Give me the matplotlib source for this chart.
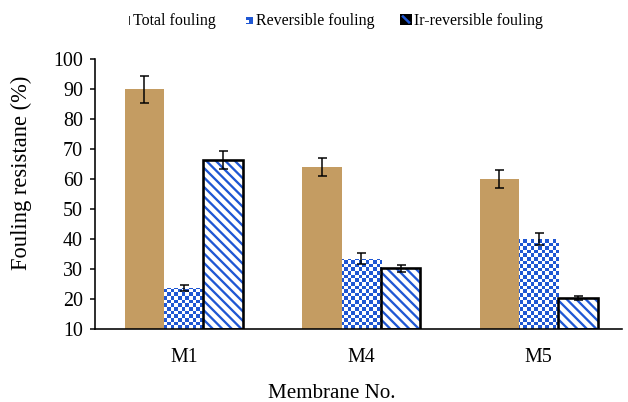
import numpy as np
import matplotlib
matplotlib.use("Agg")
import matplotlib.pyplot as plt
from matplotlib.patches import Rectangle
from matplotlib.lines import Line2D
from matplotlib.collections import LineCollection
from matplotlib.colors import ListedColormap

# ---- data -------------------------------------------------------------
membranes = ["M1", "M4", "M5"]
series_labels = ["Total fouling", "Reversible fouling", "Ir-reversible fouling"]
total_fouling = [90.0, 64.0, 60.0]
total_err = [4.5, 3.0, 3.0]
reversible_fouling = [23.8, 33.5, 40.0]
reversible_err = [1.0, 1.8, 2.0]
irreversible_fouling = [66.3, 30.2, 20.3]
irreversible_err = [3.0, 1.3, 0.6]
y_ticks = list(range(10, 101, 10))

# ---- style ------------------------------------------------------------
DPI = 60
W_PX, H_PX = 628, 402


def pt(px):
    """Convert a pixel size to points for this figure's dpi."""
    return px * 72.0 / DPI


TAN = "#C49C62"
BLUE = "#1F57D3"

plt.rcParams["font.family"] = ["Liberation Serif", "DejaVu Serif"]

fig = plt.figure(figsize=(W_PX / DPI, H_PX / DPI), dpi=DPI)
AX_L, AX_R, AX_B, AX_H = 95, 622, 73, 270
ax = fig.add_axes([AX_L / W_PX, AX_B / H_PX, (AX_R - AX_L) / W_PX, AX_H / H_PX])

x = np.arange(len(membranes))
bw = 0.2225
ymin, ymax = 10, 100
PX_PER_X = 177.5                       # pixels per category
PX_PER_Y = AX_H / (ymax - ymin)        # pixels per percent
xlim = (-0.5, -0.5 + (AX_R - AX_L) / PX_PER_X)
ax.set_xlim(*xlim)
ax.set_ylim(ymin, ymax)

# Total fouling: plain tan bars
ax.bar(x - bw, np.array(total_fouling) - ymin, bw, bottom=ymin,
       color=TAN, linewidth=0, zorder=2)

# Reversible fouling: blue / white checkerboard clipped into each bar
rev = ax.bar(x, np.array(reversible_fouling) - ymin, bw, bottom=ymin,
             facecolor="white", linewidth=0, zorder=2)
cell_px = 3.6
ncols = int(np.ceil((AX_R - AX_L) / cell_px))
nrows = int(np.ceil(AX_H / cell_px))
checker = (np.add.outer(np.arange(nrows), np.arange(ncols)) % 2).astype(float)
cmap = ListedColormap(["white", BLUE])
for bar in rev:
    im = ax.imshow(checker, cmap=cmap, vmin=0, vmax=1, interpolation="nearest",
                   extent=(xlim[0], xlim[0] + ncols * cell_px / PX_PER_X,
                           ymin, ymin + nrows * cell_px / PX_PER_Y),
                   origin="lower", aspect="auto", zorder=2.5)
    im.set_clip_path(bar)

# Ir-reversible fouling: blue diagonal stripes with a heavy black outline
irr = ax.bar(x + bw, np.array(irreversible_fouling) - ymin, bw, bottom=ymin,
             facecolor="white", linewidth=0, zorder=2)
stripe_gap_px = 9.5
for bar in irr:
    bx0, by0 = bar.get_x(), bar.get_y()
    bx1, by1 = bx0 + bar.get_width(), by0 + bar.get_height()
    # stripes run from upper-left to lower-right (slope -1 in pixel space)
    px0, px1 = bx0 * PX_PER_X, bx1 * PX_PER_X
    py0, py1 = by0 * PX_PER_Y, by1 * PX_PER_Y
    cs = np.arange(px0 + py0 - stripe_gap_px, px1 + py1 + stripe_gap_px,
                   stripe_gap_px)
    segs = []
    for c in cs:
        xa, xb = px0 - 5, px1 + 5
        segs.append([(xa / PX_PER_X, (c - xa) / PX_PER_Y),
                     (xb / PX_PER_X, (c - xb) / PX_PER_Y)])
    lc = LineCollection(segs, colors=BLUE, linewidths=pt(2.3), zorder=2.5)
    ax.add_collection(lc)
    lc.set_clip_path(bar)
ax.bar(x + bw, np.array(irreversible_fouling) - ymin, bw, bottom=ymin,
       facecolor="none", edgecolor="black", linewidth=pt(2.6), zorder=3)

# Error bars
for offs, vals, errs in [(-bw, total_fouling, total_err),
                         (0.0, reversible_fouling, reversible_err),
                         (bw, irreversible_fouling, irreversible_err)]:
    ax.errorbar(x + offs, vals, yerr=errs, fmt="none", ecolor="black",
                elinewidth=pt(1.5), capsize=pt(4.5), capthick=pt(1.5),
                zorder=4)

ax.set_xticks(x)
ax.set_xticklabels(membranes)
ax.set_yticks(y_ticks)
ax.tick_params(axis="y", direction="out", length=pt(5), width=pt(1.5),
               labelsize=pt(20), pad=pt(7))
ax.tick_params(axis="x", length=0, labelsize=pt(20), pad=pt(19))
for s in ("top", "right"):
    ax.spines[s].set_visible(False)
for s in ("left", "bottom"):
    ax.spines[s].set_linewidth(pt(1.6))
    ax.spines[s].set_color("black")

ax.set_ylabel("Fouling resistane (%)", fontsize=pt(22.5))
ax.yaxis.set_label_coords(-(95 - 21) / (AX_R - AX_L), (329 - 173) / AX_H,
                          transform=ax.transAxes)
ax.yaxis.label.set_horizontalalignment("center")
ax.yaxis.label.set_verticalalignment("center")

ax.set_xlabel("Membrane No.", fontsize=pt(21))
ax.xaxis.set_label_coords((332 - AX_L) / (AX_R - AX_L), -(393 - 329) / AX_H,
                          transform=ax.transAxes)
ax.xaxis.label.set_verticalalignment("center")


# ---- legend with small custom icons -----------------------------------
class IconHandler:
    def __init__(self, kind):
        self.kind = kind

    def legend_artist(self, legend, orig_handle, fontsize, handlebox):
        x0, y0 = -handlebox.xdescent, -handlebox.ydescent
        w, h = handlebox.width, handlebox.height
        tr = handlebox.get_transform()
        artists = []
        if self.kind == "total":
            artists.append(Rectangle((x0 + w - 2.2, y0 + 0.5), 1.8, h * 0.75,
                                     facecolor="#333333", linewidth=0,
                                     transform=tr))
        elif self.kind == "rev":
            artists.append(Rectangle((x0 + w * 0.35, y0 + 1.5), w * 0.6, h * 0.6,
                                     facecolor=BLUE, linewidth=0, transform=tr))
            artists.append(Rectangle((x0 + w * 0.35, y0 + 2.5), w * 0.3, h * 0.3,
                                     facecolor="white", linewidth=0, transform=tr))
        else:
            artists.append(Rectangle((x0, y0), w, h, facecolor="black",
                                     linewidth=0, transform=tr))
            artists.append(Line2D([x0 + w * 0.25, x0 + w * 0.75],
                                  [y0 + h * 0.75, y0 + h * 0.25],
                                  color=BLUE, linewidth=pt(2.5), transform=tr))
        for a in artists:
            handlebox.add_artist(a)
        return artists[0]


proxies = [Rectangle((0, 0), 1, 1, label=lab) for lab in series_labels]
kinds = ["total", "rev", "irr"]
fig.legend(proxies, series_labels,
           handler_map={p: IconHandler(k) for p, k in zip(proxies, kinds)},
           loc="center", bbox_to_anchor=(331 / W_PX, 1 - 21 / H_PX),
           ncol=3, frameon=False, fontsize=pt(16),
           handlelength=0.75, handleheight=0.75, handletextpad=0.15,
           columnspacing=1.6, borderpad=0)

fig.savefig("out.png", dpi=DPI)
